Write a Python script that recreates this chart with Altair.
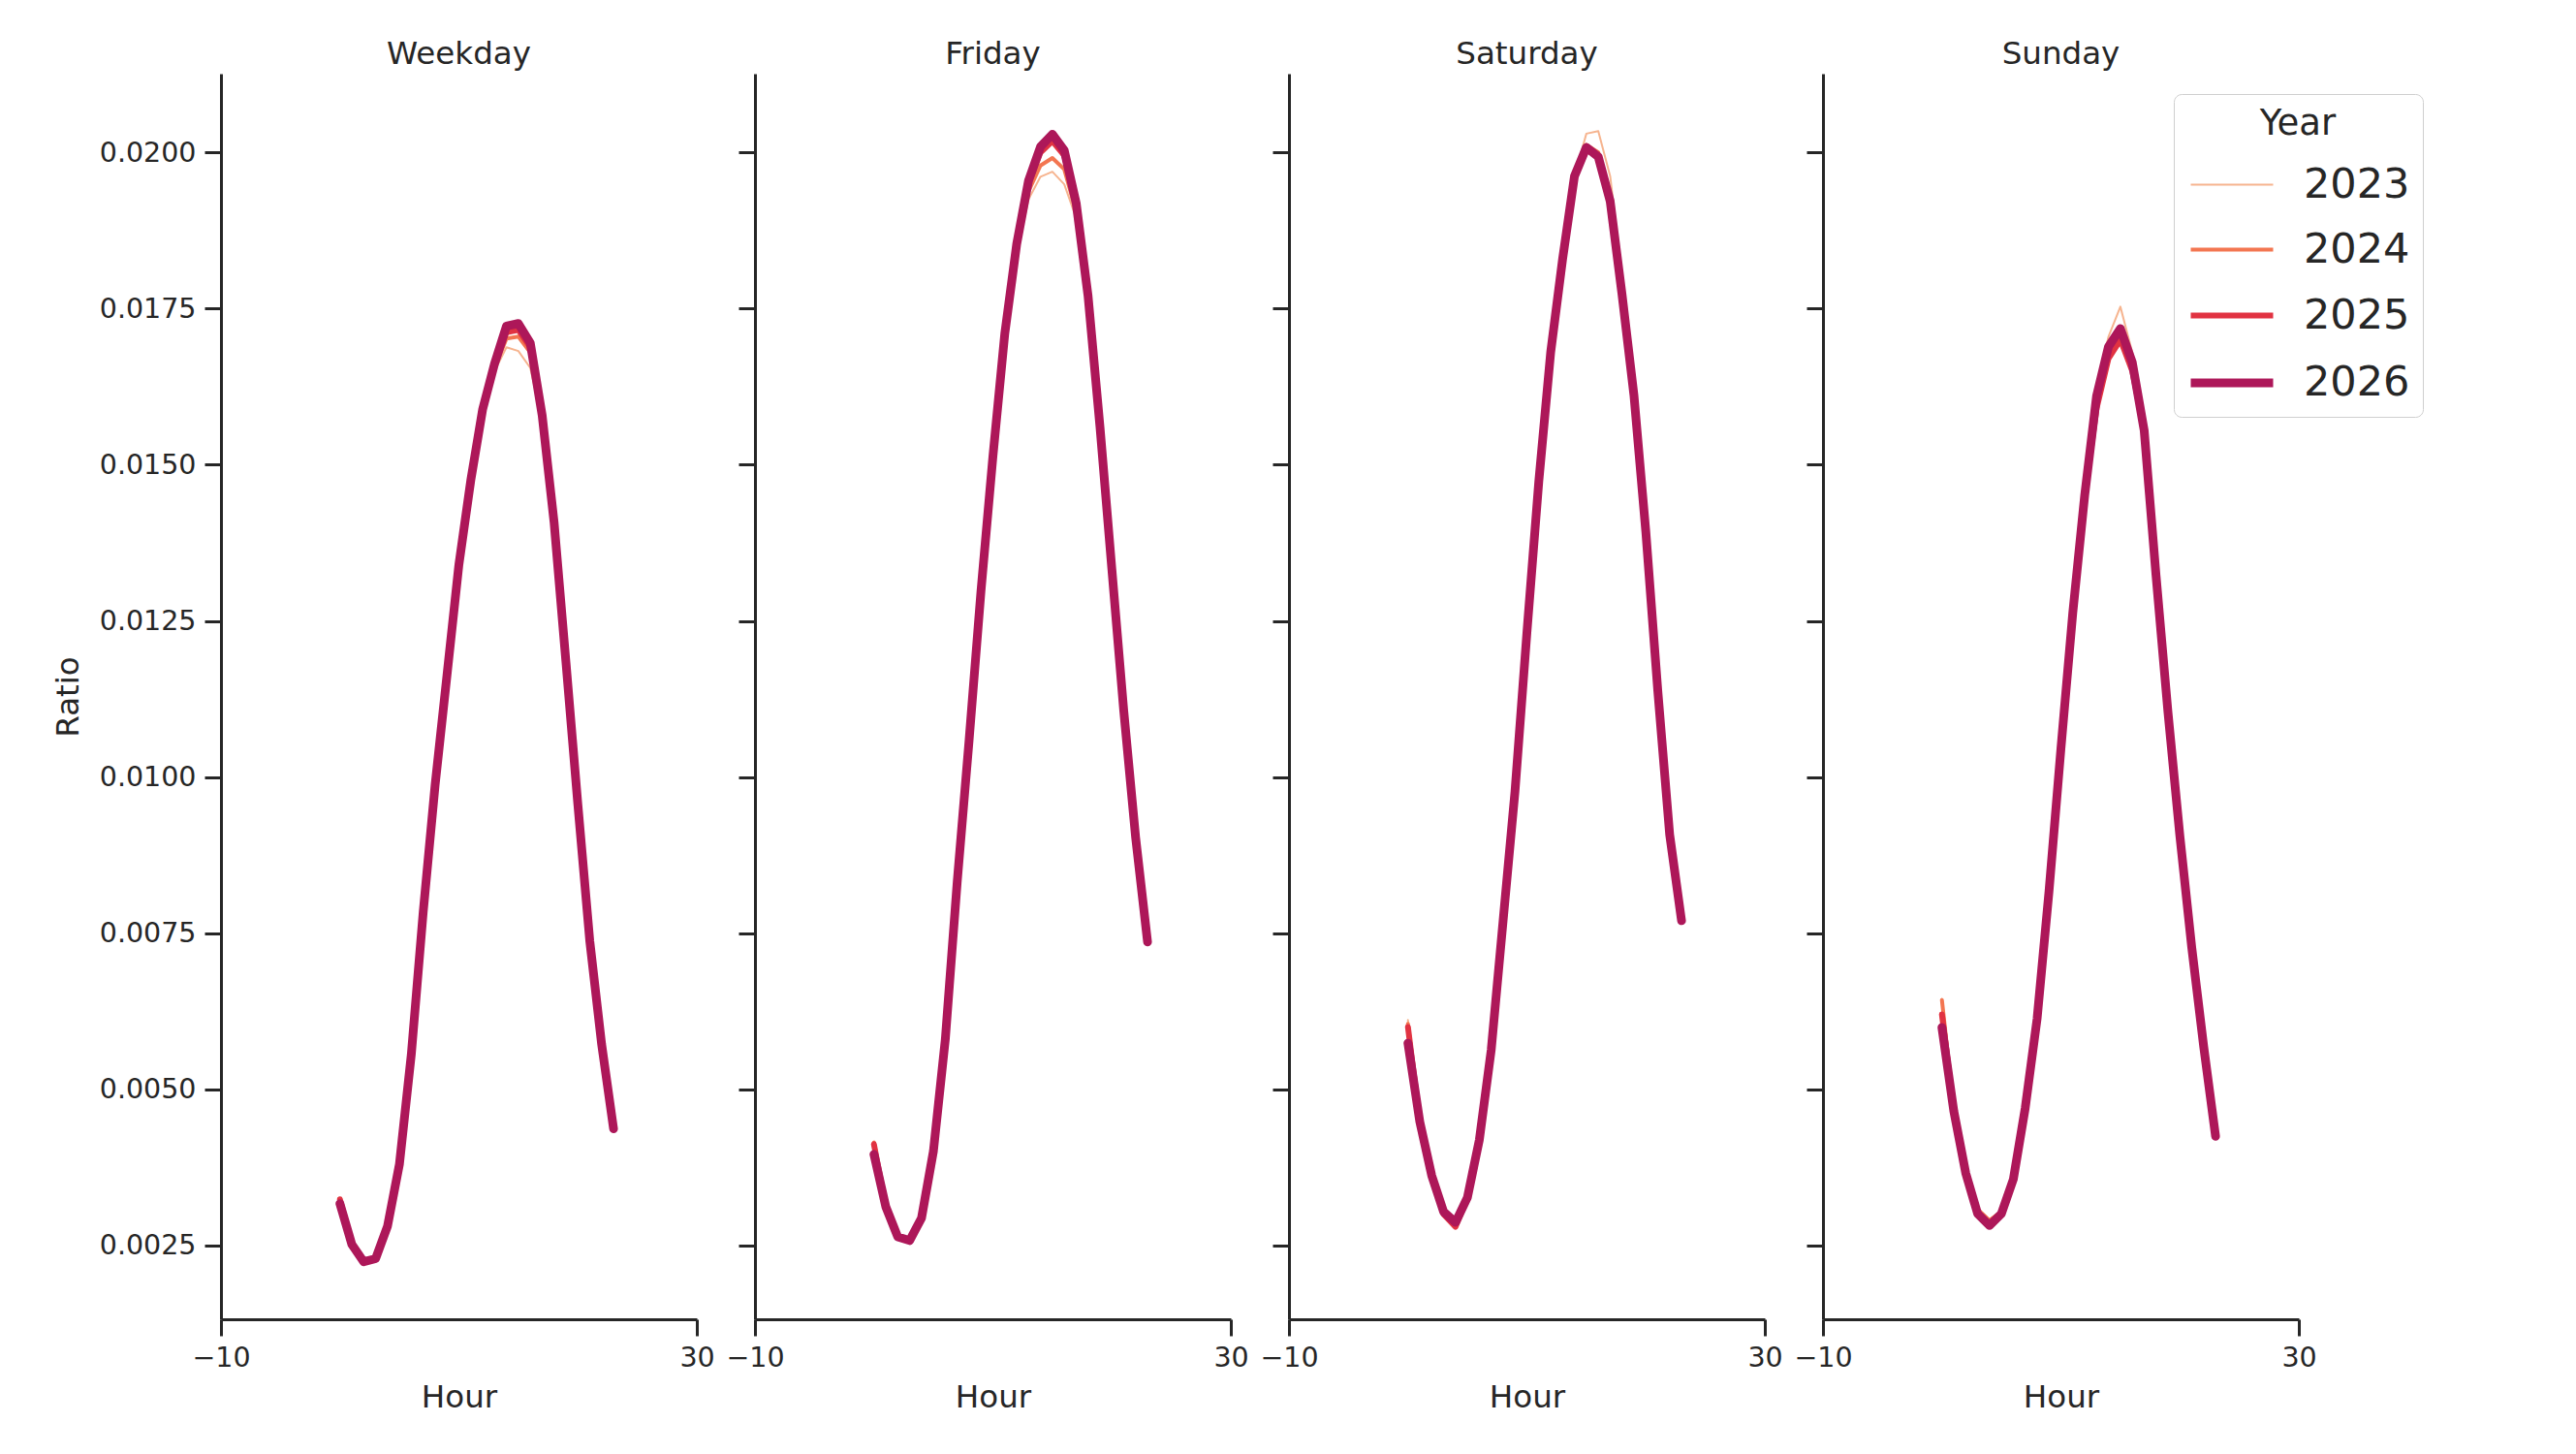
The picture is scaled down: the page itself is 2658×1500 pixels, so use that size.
import altair as alt
import pandas as pd

# hourly ratio per day type and year
hours = list(range(24))
days = ['Weekday', 'Friday', 'Saturday', 'Sunday']
years = ['2023', '2024', '2025', '2026']
colors = ['#f6b48f', '#f37651', '#e13342', '#ad1759']
widths = [2, 4, 6, 9]

weekday_2023 = [0.00326, 0.00254, 0.00226, 0.00231, 0.00282, 0.00380, 0.00555, 0.00782, 0.00985, 0.01160,
                0.01336, 0.01470, 0.01585, 0.01650, 0.01688, 0.01682, 0.01655, 0.01570, 0.01405, 0.01183,
                0.00957, 0.00740, 0.00574, 0.00438]
weekday_2024 = [0.00322, 0.00253, 0.00225, 0.00230, 0.00281, 0.00380, 0.00556, 0.00783, 0.00986, 0.01162,
                0.01338, 0.01473, 0.01587, 0.01655, 0.01702, 0.01705, 0.01680, 0.01575, 0.01406, 0.01184,
                0.00956, 0.00739, 0.00573, 0.00437]
weekday_2025 = [0.00324, 0.00252, 0.00226, 0.00229, 0.00281, 0.00380, 0.00556, 0.00784, 0.00987, 0.01163,
                0.01340, 0.01475, 0.01589, 0.01660, 0.01712, 0.01716, 0.01688, 0.01578, 0.01408, 0.01184,
                0.00956, 0.00738, 0.00572, 0.00437]
weekday_2026 = [0.00317, 0.00252, 0.00224, 0.00229, 0.00281, 0.00380, 0.00556, 0.00784, 0.00987, 0.01163,
                0.01340, 0.01475, 0.01589, 0.01662, 0.01722, 0.01726, 0.01695, 0.01579, 0.01408, 0.01184,
                0.00956, 0.00738, 0.00572, 0.00437]

friday_2023 = [0.00410, 0.00314, 0.00268, 0.00261, 0.00296, 0.00402, 0.00580, 0.00830, 0.01056, 0.01294,
               0.01508, 0.01700, 0.01838, 0.01925, 0.01961, 0.01969, 0.01949, 0.01895, 0.01762, 0.01558,
               0.01332, 0.01106, 0.00904, 0.00737]
friday_2024 = [0.00415, 0.00313, 0.00266, 0.00260, 0.00295, 0.00402, 0.00581, 0.00831, 0.01058, 0.01296,
               0.01510, 0.01705, 0.01845, 0.01938, 0.01979, 0.01991, 0.01973, 0.01905, 0.01765, 0.01560,
               0.01333, 0.01106, 0.00903, 0.00736]
friday_2025 = [0.00412, 0.00312, 0.00265, 0.00259, 0.00294, 0.00401, 0.00580, 0.00832, 0.01059, 0.01298,
               0.01513, 0.01708, 0.01850, 0.01950, 0.02000, 0.02018, 0.01995, 0.01915, 0.01769, 0.01561,
               0.01333, 0.01106, 0.00903, 0.00736]
friday_2026 = [0.00396, 0.00312, 0.00264, 0.00258, 0.00294, 0.00401, 0.00580, 0.00832, 0.01059, 0.01298,
               0.01513, 0.01710, 0.01853, 0.01955, 0.02009, 0.02029, 0.02003, 0.01919, 0.01770, 0.01561,
               0.01333, 0.01106, 0.00903, 0.00736]

saturday_2023 = [0.00611, 0.00452, 0.00364, 0.00305, 0.00289, 0.00329, 0.00420, 0.00563, 0.00770, 0.00977,
                 0.01231, 0.01473, 0.01680, 0.01829, 0.01962, 0.02030, 0.02034, 0.01962, 0.01800, 0.01630,
                 0.01405, 0.01160, 0.00930, 0.00790]
saturday_2024 = [0.00605, 0.00450, 0.00363, 0.00304, 0.00288, 0.00328, 0.00419, 0.00563, 0.00770, 0.00977,
                 0.01231, 0.01473, 0.01680, 0.01829, 0.01962, 0.02012, 0.02000, 0.01925, 0.01775, 0.01614,
                 0.01395, 0.01142, 0.00912, 0.00775]
saturday_2025 = [0.00600, 0.00448, 0.00362, 0.00300, 0.00280, 0.00326, 0.00419, 0.00563, 0.00770, 0.00977,
                 0.01231, 0.01473, 0.01680, 0.01829, 0.01958, 0.02005, 0.01992, 0.01922, 0.01772, 0.01611,
                 0.01392, 0.01139, 0.00908, 0.00770]
saturday_2026 = [0.00574, 0.00448, 0.00362, 0.00304, 0.00287, 0.00327, 0.00419, 0.00563, 0.00770, 0.00977,
                 0.01231, 0.01473, 0.01680, 0.01829, 0.01962, 0.02008, 0.01993, 0.01922, 0.01772, 0.01611,
                 0.01392, 0.01139, 0.00908, 0.00770]

sunday_2023 = [0.00645, 0.00470, 0.00370, 0.00310, 0.00292, 0.00306, 0.00358, 0.00470, 0.00613, 0.00817,
               0.01045, 0.01263, 0.01451, 0.01620, 0.01705, 0.01753, 0.01680, 0.01560, 0.01325, 0.01105,
               0.00906, 0.00727, 0.00569, 0.00425]
sunday_2024 = [0.00643, 0.00468, 0.00368, 0.00308, 0.00290, 0.00304, 0.00357, 0.00470, 0.00613, 0.00817,
               0.01045, 0.01263, 0.01451, 0.01600, 0.01685, 0.01705, 0.01660, 0.01555, 0.01322, 0.01104,
               0.00906, 0.00727, 0.00569, 0.00425]
sunday_2025 = [0.00620, 0.00466, 0.00367, 0.00303, 0.00285, 0.00302, 0.00356, 0.00470, 0.00613, 0.00817,
               0.01045, 0.01263, 0.01451, 0.01590, 0.01670, 0.01700, 0.01650, 0.01555, 0.01322, 0.01104,
               0.00906, 0.00727, 0.00569, 0.00425]
sunday_2026 = [0.00599, 0.00465, 0.00366, 0.00301, 0.00282, 0.00301, 0.00356, 0.00470, 0.00613, 0.00817,
               0.01045, 0.01263, 0.01451, 0.01610, 0.01689, 0.01718, 0.01664, 0.01555, 0.01322, 0.01104,
               0.00906, 0.00727, 0.00569, 0.00425]

y_ticks = [0.0025, 0.0050, 0.0075, 0.0100, 0.0125, 0.0150, 0.0175, 0.0200]
x_ticks = [-10, 30]

series = {
    'Weekday': [weekday_2023, weekday_2024, weekday_2025, weekday_2026],
    'Friday': [friday_2023, friday_2024, friday_2025, friday_2026],
    'Saturday': [saturday_2023, saturday_2024, saturday_2025, saturday_2026],
    'Sunday': [sunday_2023, sunday_2024, sunday_2025, sunday_2026],
}

rows = []
for day in days:
    for year, vals in zip(years, series[day]):
        for h, v in zip(hours, vals):
            rows.append({'Day': day, 'Year': year, 'Hour': h, 'Ratio': v})
df = pd.DataFrame(rows)

FONT = 'DejaVu Sans'
INK = '#262626'

# one shared legend for colour and width
legend = alt.Legend(
    orient='none', legendX=2015, legendY=21, symbolType='stroke', symbolSize=7225,
    titleFontSize=37, labelFontSize=43, labelOffset=27, rowPadding=-13, titlePadding=0,
    padding=13, titleAnchor='middle', fillColor='white', strokeColor='#cfcfcf',
    cornerRadius=8
)


def panel(day, first):
    y_axis = alt.Axis(values=y_ticks, format='.4f', labels=first, labelPadding=9,
                      title='Ratio' if first else None, titlePadding=15)
    return alt.Chart(df).transform_filter(
        alt.datum.Day == day
    ).mark_line(strokeCap='round', strokeJoin='round').encode(
        x=alt.X('Hour:Q', scale=alt.Scale(domain=[-10, 30], nice=False),
                axis=alt.Axis(values=x_ticks, labelFlush=False, labelPadding=8, titlePadding=11)),
        y=alt.Y('Ratio:Q', scale=alt.Scale(domain=[0.00132, 0.02126], nice=False, zero=False), axis=y_axis),
        color=alt.Color('Year:O', scale=alt.Scale(domain=years, range=colors), legend=legend),
        strokeWidth=alt.StrokeWidth('Year:O', scale=alt.Scale(type='ordinal', domain=years, range=widths),
                                    legend=legend),
        detail='Year:N'
    ).properties(
        width=491, height=1285,
        title=alt.TitleParams(day, fontSize=32.5, font=FONT, fontWeight='normal', color=INK,
                              anchor='middle', baseline='alphabetic', offset=-22)
    )


chart = alt.hconcat(
    *[panel(d, i == 0) for i, d in enumerate(days)], spacing=60, bounds='flush'
).properties(
    padding={'left': 46, 'top': 31, 'right': 20, 'bottom': 20}
).configure_axis(
    grid=False, domainColor=INK, tickColor=INK, labelColor=INK, titleColor=INK,
    labelFont=FONT, titleFont=FONT, labelFontSize=28.5, titleFontSize=32.5,
    titleFontWeight='normal', tickSize=17, tickWidth=3, domainWidth=3
).configure_legend(
    labelFont=FONT, titleFont=FONT, labelColor=INK, titleColor=INK, titleFontWeight='normal'
).configure_view(
    strokeWidth=0
)

chart.save("out.html", embed_options={"renderer": "svg", "actions": False})
